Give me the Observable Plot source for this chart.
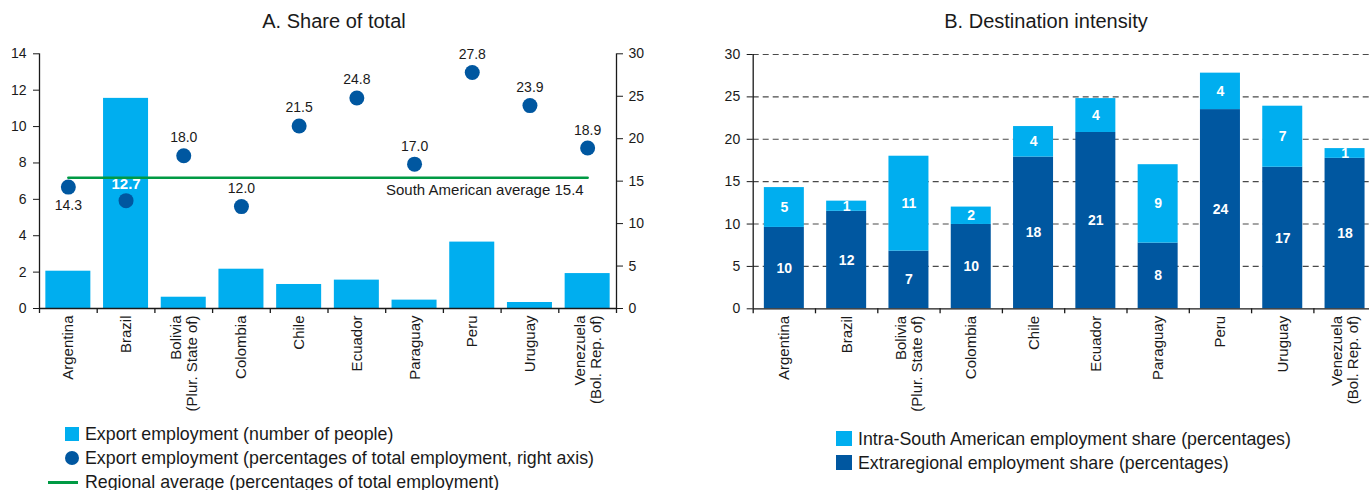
<!DOCTYPE html>
<html><head><meta charset="utf-8">
<script src="https://cdn.jsdelivr.net/npm/d3@7"></script>
<script src="https://cdn.jsdelivr.net/npm/@observablehq/plot@0.6"></script>
<style>
body{margin:0;width:1369px;height:490px;overflow:hidden;background:#fff;font-family:"Liberation Sans",Arial,sans-serif;color:#1a1a1a;position:relative}
.title{font-size:20px;line-height:24px;text-align:center;white-space:nowrap}
.row{position:absolute;height:24px;font-size:17.8px;line-height:24px;white-space:nowrap}
.row span{position:absolute}
</style></head><body>
<script>
// ---------- data ----------
const countries = ["Argentina","Brazil","Bolivia\n(Plur. State of)","Colombia","Chile","Ecuador","Paraguay","Peru","Uruguay","Venezuela\n(Bol. Rep. of)"];
// Panel A
const exportEmployment = [2.05, 11.55, 0.62, 2.16, 1.32, 1.56, 0.46, 3.65, 0.33, 1.92];
const exportEmploymentPct = [14.3, 12.7, 18.0, 12.0, 21.5, 24.8, 17.0, 27.8, 23.9, 18.9];
const regionalAverage = 15.4;
const leftAxisTicks = [0, 2, 4, 6, 8, 10, 12, 14];
const rightAxisTicks = [0, 5, 10, 15, 20, 25, 30];
// Panel B
const extraregionalShare = [9.6, 11.5, 6.8, 9.95, 17.9, 20.8, 7.75, 23.5, 16.7, 17.75];
const intraShare = [4.7, 1.2, 11.2, 2.05, 3.6, 4.0, 9.25, 4.3, 7.2, 1.15];
const destAxisTicks = [0, 5, 10, 15, 20, 25, 30];
const seriesB = ["Extraregional", "Intra-South American"];

// ---------- styles ----------
const LIGHT = "#00aeef", DARK = "#0057a0", GREEN = "#009a44", INK = "#1a1a1a";
const FONT = "'Liberation Sans', Arial, sans-serif";

const tableA = countries.map((c, i) => ({country: c, people: exportEmployment[i], pct: exportEmploymentPct[i]}));
const leftMax = leftAxisTicks[leftAxisTicks.length - 1];
const rightMax = rightAxisTicks[rightAxisTicks.length - 1];
const insideBar = d => d.pct / rightMax * leftMax < d.people;
const belowDot = d => !insideBar(d) && regionalAverage - d.pct > 0 && regionalAverage - d.pct < 2.5;

const H = 395;
const WA = 685, mA = {top: 23.3, right: 69, bottom: 117, left: 39};
const stepA = (WA - mA.left - mA.right) / countries.length;
const baseA = {
  width: WA, height: H, marginTop: mA.top, marginRight: mA.right, marginBottom: mA.bottom, marginLeft: mA.left,
  x: {domain: countries, paddingInner: 0.22, paddingOuter: 0.11, round: false, axis: null},
  style: {fontFamily: FONT, fontSize: "14px", color: INK, background: "transparent", overflow: "visible"}
};
const last = countries[countries.length - 1];

const a1 = Plot.plot({
  ...baseA,
  y: {domain: [0, leftMax], axis: null},
  marks: [
    Plot.barY(tableA, {x: "country", y: "people", fill: LIGHT}),
    Plot.axisY({ticks: leftAxisTicks, anchor: "left", label: null, tickSize: 6, tickPadding: 7, fontSize: 14}),
    Plot.ruleY([0], {stroke: INK, strokeWidth: 1.3}),
    Plot.ruleX([countries[0]], {y1: 0, y2: leftMax, dx: -stepA / 2, stroke: INK, strokeWidth: 1.3}),
    Plot.ruleX(countries, {y1: 0, y2: 0, dx: -stepA / 2, insetBottom: -5, stroke: INK, strokeWidth: 1.3}),
    Plot.text(countries, {x: d => d, frameAnchor: "bottom", rotate: -90, textAnchor: "end", lineAnchor: "middle", lineHeight: 1.05, dy: 7, fontSize: 15, fill: INK})
  ]
});
const a2 = Plot.plot({
  ...baseA,
  y: {domain: [0, rightMax], axis: null},
  marks: [
    Plot.axisY({ticks: rightAxisTicks, anchor: "right", label: null, tickSize: 6, tickPadding: 6, fontSize: 14}),
    Plot.ruleX([last], {y1: 0, y2: rightMax, dx: stepA / 2, stroke: INK, strokeWidth: 1.3}),
    Plot.ruleX([last], {y1: 0, y2: 0, dx: stepA / 2, insetBottom: -5, stroke: INK, strokeWidth: 1.3}),
    Plot.lineY(countries, {x: d => d, y: () => regionalAverage, stroke: GREEN, strokeWidth: 2.5}),
    Plot.text([`South American average ${regionalAverage}`], {x: () => last, y: () => regionalAverage, text: d => d, textAnchor: "end", dx: -4, dy: 12, fontSize: 15, fill: INK}),
    Plot.dot(tableA, {x: "country", y: "pct", r: 7.5, fill: DARK}),
    Plot.text(tableA.filter(d => !insideBar(d) && !belowDot(d)), {x: "country", y: "pct", text: d => d.pct.toFixed(1), dy: -18, fontSize: 14, fill: INK}),
    Plot.text(tableA.filter(belowDot), {x: "country", y: "pct", text: d => d.pct.toFixed(1), dy: 18, fontSize: 14, fill: INK}),
    Plot.text(tableA.filter(insideBar), {x: "country", y: "pct", text: d => d.pct.toFixed(1), dy: -16, fontSize: 15, fontWeight: "bold", fill: "white"})
  ]
});

// Panel B
const tableB = countries.flatMap((c, i) => [
  {country: c, type: seriesB[0], value: extraregionalShare[i]},
  {country: c, type: seriesB[1], value: intraShare[i]}
]);
const WB = 669, mB = {top: 24, right: 0, bottom: 116.7, left: 52.7};
const stepB = 62.3;
const b = Plot.plot({
  width: WB, height: H, marginTop: mB.top, marginRight: mB.right, marginBottom: mB.bottom, marginLeft: mB.left,
  x: {domain: countries, range: [mB.left, mB.left + stepB * countries.length], paddingInner: 0.358, paddingOuter: 0.179, round: false, axis: null},
  y: {domain: [0, destAxisTicks[destAxisTicks.length - 1]], axis: null},
  color: {domain: seriesB, range: [DARK, LIGHT]},
  style: {fontFamily: FONT, fontSize: "14px", color: INK, background: "transparent", overflow: "visible"},
  marks: [
    Plot.gridY({ticks: destAxisTicks.filter(v => v > 0), stroke: "#4a4a4a", strokeOpacity: 1, strokeWidth: 1.1, strokeDasharray: "6,4"}),
    Plot.barY(tableB, {x: "country", y: "value", fill: "type"}),
    Plot.text(tableB, Plot.stackY({x: "country", y: "value", z: "type", text: d => String(Math.round(d.value)), fill: "white", fontWeight: "bold", fontSize: 14})),
    Plot.axisY({ticks: destAxisTicks, anchor: "left", label: null, tickSize: 6, tickPadding: 7, fontSize: 14}),
    Plot.ruleY([0], {stroke: INK, strokeWidth: 1.3}),
    Plot.ruleX([countries[0]], {y1: 0, y2: 30, dx: -stepB / 2, stroke: INK, strokeWidth: 1.3}),
    Plot.ruleX(countries, {y1: 0, y2: 0, dx: -stepB / 2, insetBottom: -5, stroke: INK, strokeWidth: 1.3}),
    Plot.text(countries, {x: d => d, frameAnchor: "bottom", rotate: -90, textAnchor: "end", lineAnchor: "middle", lineHeight: 1.05, dy: 7, fontSize: 15, fill: INK})
  ]
});

function place(el, left, top) { el.style.position = "absolute"; el.style.left = left + "px"; el.style.top = top + "px"; document.body.appendChild(el); }
place(a1, 0, 30); place(a2, 0, 30); place(b, 700, 30);

function div(cls, html, left, top, width) {
  const d = document.createElement("div"); d.className = cls; d.innerHTML = html;
  d.style.left = left + "px"; d.style.top = top + "px"; d.style.position = "absolute";
  if (width) d.style.width = width + "px";
  document.body.appendChild(d); return d;
}
div("title", "A. Share of total", 134, 9, 400);
div("title", "B. Destination intensity", 846, 9, 400);

// Legends
div("row", `<span style="left:65px;top:5px;width:14px;height:14px;background:${LIGHT}"></span><span style="left:85px">Export employment (number of people)</span>`, 0, 421.5, 680);
div("row", `<span style="left:65px;top:5px;width:14px;height:14px;border-radius:50%;background:${DARK}"></span><span style="left:85px">Export employment (percentages of total employment, right axis)</span>`, 0, 446, 680);
div("row", `<span style="left:48px;top:11px;width:30px;height:3px;background:${GREEN}"></span><span style="left:85px">Regional average (percentages of total employment)</span>`, 0, 470, 680);
div("row", `<span style="left:836px;top:4px;width:16px;height:15px;background:${LIGHT}"></span><span style="left:858px">Intra-South American employment share (percentages)</span>`, 0, 427, 1369);
div("row", `<span style="left:836px;top:4px;width:16px;height:15px;background:${DARK}"></span><span style="left:858px">Extraregional employment share (percentages)</span>`, 0, 451, 1369);
</script>
</body></html>
